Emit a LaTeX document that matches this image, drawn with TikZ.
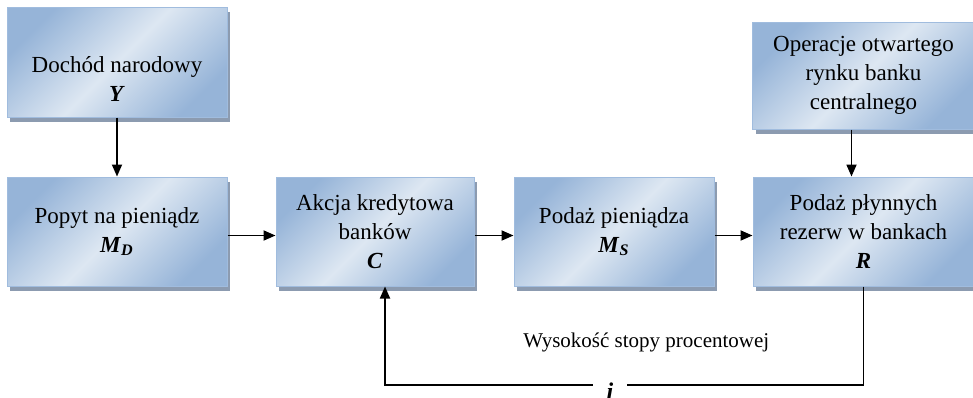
\documentclass[tikz,border=0pt]{standalone}
\usepackage{fontspec}
\setmainfont{Liberation Serif}
\usetikzlibrary{arrows.meta,positioning,shadows}

\definecolor{boxlight}{RGB}{221,231,242}
\definecolor{boxdark}{RGB}{150,180,216}
\definecolor{boxline}{RGB}{160,188,222}
\definecolor{boxshadow}{RGB}{140,155,176}

\newcommand{\bivar}[1]{\textbf{\textit{#1}}}

\begin{document}
\begin{tikzpicture}[x=0.5pt,y=0.5pt,
	box/.style={rectangle,draw=boxline,line width=0.5pt,top color=boxdark,bottom color=boxdark,middle color=boxlight,shading angle=45,
		drop shadow={shadow xshift=1.5pt,shadow yshift=-2.5pt,fill=boxshadow,opacity=1},
		minimum height=54.5pt,align=center,inner sep=2pt,font=\fontsize{11.5}{14.5}\selectfont},
	arr/.style={-{Triangle[length=6pt,width=5pt]},line width=0.9pt}]
			\useasboundingbox (0,0) rectangle (973,-397);
			\node[box,minimum width=110pt] (popyt) at (117,-231.5) {Popyt na pieniądz\\\bivar{M}\textsubscript{\bivar{D}}};
			\node[box,minimum width=99pt,right=24pt of popyt] (akcja) {Akcja kredytowa\\banków\\\bivar{C}};
			\node[box,minimum width=100pt,right=19.5pt of akcja] (podaz) {Podaż pieniądza\\\bivar{M}\textsubscript{\bivar{S}}};
			\node[box,minimum width=110.5pt,right=19pt of podaz] (rezerwy) {Podaż płynnych\\rezerw w bankach\\\bivar{R}};
			\node[box,minimum width=110pt,minimum height=55pt,above=29.5pt of popyt] (dochod) {\rule{0pt}{25pt}Dochód narodowy\\\bivar{Y}};
			\node[box,minimum width=111pt,minimum height=53.5pt,above=23.5pt of rezerwy] (operacje) {Operacje otwartego\\rynku banku\\centralnego};
			\coordinate (low) at (0,-385);
			
			\draw[arr] (dochod) -- (popyt);
			\draw[arr] ([yshift=-2pt]popyt.east) -- ([yshift=-2pt]akcja.west);
			\draw[arr] ([yshift=-2pt]akcja.east) -- ([yshift=-2pt]podaz.west);
			\draw[arr] ([yshift=-2pt]podaz.east) -- ([yshift=-2pt]rezerwy.west);
			\draw[arr] ([xshift=-6pt]operacje.south) -- ([xshift=-6pt]rezerwy.north);
			\draw[arr] (rezerwy.south) -- (rezerwy.south |- low) -| 
				node[pos=0.227,anchor=base,yshift=19pt,font=\fontsize{10.5}{12}\selectfont] (wys) {Wysokość stopy procentowej}
				node[pos=0.265,anchor=base,yshift=-7pt,fill=white,inner xsep=7pt,inner ysep=2pt,font=\fontsize{12}{14}\selectfont] (stopa) {\bivar{i}}
				([xshift=5pt]akcja.south);
		\end{tikzpicture}
\end{document}
